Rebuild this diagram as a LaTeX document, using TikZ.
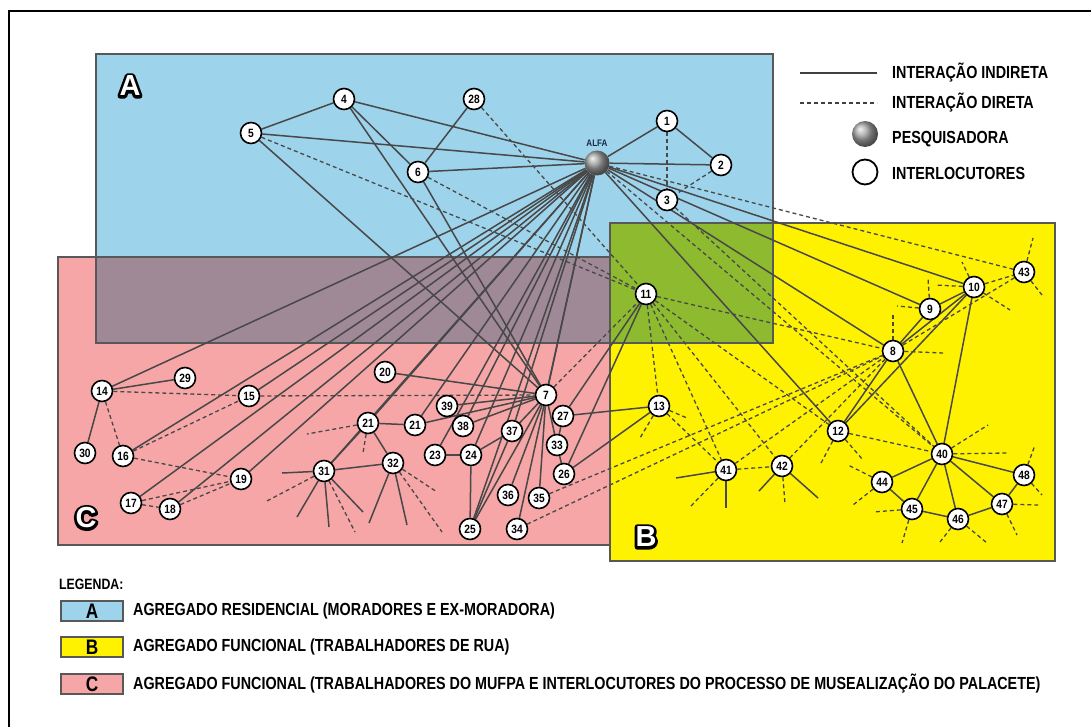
\documentclass[tikz,border=0pt]{standalone}
\usepackage{fontspec}
\setmainfont{Liberation Sans}
\newfontfamily\lgfont{Liberation Sans}[FakeStretch=0.82]
\newfontfamily\nmfont{Liberation Sans}[FakeStretch=0.85]
\definecolor{cA}{RGB}{157,211,235}
\definecolor{cB}{RGB}{255,242,0}
\definecolor{cC}{RGB}{246,166,166}
\definecolor{cAC}{RGB}{160,137,151}
\definecolor{cAB}{RGB}{141,186,46}
\definecolor{bordc}{RGB}{88,88,88}
\definecolor{linc}{RGB}{72,72,72}
\definecolor{alfac}{RGB}{25,40,70}
\pgfdeclarelayer{bg}
\pgfdeclarelayer{edges}
\pgfsetlayers{bg,edges,main}
\tikzset{
  nd/.style={circle,draw=black,line width=1.6pt,fill=white,inner sep=0pt,minimum size=21pt,font=\nmfont\bfseries\fontsize{12}{12}\selectfont},
  ind/.style={draw=linc,line width=1.5pt},
  dir/.style={draw=linc,line width=1.3pt,dash pattern=on 4pt off 3pt},
  bord/.style={draw=bordc,line width=2pt},
  lgtext/.style={anchor=west,inner sep=0pt,font=\lgfont\bfseries\fontsize{17.5}{19}\selectfont},
  bigl/.style={inner sep=0pt,text=white,font=\bfseries\fontsize{29}{31}\selectfont},
  sph/.style={circle,inner sep=0pt,minimum size=25pt,shading=ball,ball color=gray!75},
  legbox/.style={draw=bordc,line width=2.5pt,minimum width=62pt,minimum height=20pt,inner sep=0pt,font=\lgfont\bfseries\fontsize{21}{21}\selectfont}
}
\newcommand{\outltxt}[1]{\rlap{\special{pdf:literal direct 1 Tr 5.5 w 1 j 0 0 0 RG}#1\special{pdf:literal direct 0 Tr}}#1}
\begin{document}
\begin{tikzpicture}[x=1pt,y=-1pt]
\useasboundingbox (0,0) rectangle (1091,727);
% background regions
\begin{pgfonlayer}{bg}
\fill[white] (0,0) rectangle (1091,727);
\draw[black,line width=2pt] (9,740) -- (9,11) -- (1100,11);
\fill[cA] (96,54) rectangle (773,343);
\fill[cC] (58,257) rectangle (610,545);
\fill[cAC] (96,257) rectangle (610,343);
\fill[cB] (610,223) rectangle (1055,561);
\fill[cAB] (610,223) rectangle (773,343);
\draw[bord] (96,54) rectangle (773,343);
\draw[bord] (58,257) rectangle (610,545);
\draw[bord] (610,223) rectangle (1055,561);
\end{pgfonlayer}

% big letters
\node[bigl] (LA) at (130,86) {\outltxt{A}};
\node[bigl] (LB) at (646,537) {\outltxt{B}};
\node[bigl] (LC) at (86,518) {\outltxt{C}};

% nodes
\node[sph] (ALFA) at (597,163) {};
\node[inner sep=0pt,text=alfac,font=\nmfont\bfseries\fontsize{9.5}{10}\selectfont] (alfalab) at (597,143) {ALFA};
\foreach \n/\t/\x/\y in {
 n1/1/667/121, n2/2/721/165, n3/3/667/200, n4/4/344/99, n5/5/251/133, n6/6/418/172, n28/28/474/99,
 n11/11/646/294, n10/10/974/287, n43/43/1024/272, n9/9/930/309, n8/8/893/351, n12/12/838/431,
 n13/13/659/406, n41/41/726/470, n42/42/782/466, n40/40/942/454, n44/44/882/482, n45/45/912/509,
 n46/46/958/519, n47/47/1002/504, n48/48/1024/475,
 n7/7/546/395, n14/14/102/391, n29/29/185/378, n15/15/249/396, n30/30/85/453, n16/16/123/456,
 n19/19/241/479, n17/17/131/503, n18/18/170/509, n31/31/324/471, n20/20/385/372, n21a/21/368/423,
 n21b/21/415/425, n39/39/447/406, n38/38/463/426, n23/23/435/455, n24/24/471/455, n37/37/512/431,
 n32/32/393/463, n25/25/470/529, n36/36/508/495, n35/35/539/498, n34/34/517/529, n27/27/563/416,
 n33/33/557/445, n26/26/564/474}
 \node[nd] (\n) at (\x,\y) {\t};

% edges
\begin{pgfonlayer}{edges}
\foreach \a/\b in {ALFA/n1, ALFA/n2, n1/n2, ALFA/n4, ALFA/n5, ALFA/n6, n4/n5, n4/n6, n4/n7, n5/n7, n6/n7, n6/n28,
 ALFA/n10, ALFA/n9, ALFA/n8, ALFA/n12,
 ALFA/n14, ALFA/n15, ALFA/n16, ALFA/n17, ALFA/n18, ALFA/n19, ALFA/n31, ALFA/n21a, ALFA/n21b, ALFA/n23,
 ALFA/n38, ALFA/n24, ALFA/n37, ALFA/n25, ALFA/n34, ALFA/n7,
 n14/n29, n14/n30, n31/n32, n31/n21a, n21a/n32, n21a/n21b,
 n20/n7, n39/n7, n21b/n7, n38/n7, n37/n7, n24/n37, n23/n24, n24/n25, n25/n37, n25/n7, n36/n7, n35/n7,
 n7/n33, n27/n33, n33/n26, n27/n13, n26/n13, n27/n11, n26/n11,
 n8/n9, n8/n10, n9/n10, n12/n8, n12/n10, n8/n40, n10/n40,
 n40/n44, n40/n45, n40/n46, n40/n47, n40/n48, n44/n45, n45/n46, n46/n47, n47/n48}
 \draw[ind] (\a) -- (\b);
\foreach \a/\b in {n1/n3, n2/n3, ALFA/n43, ALFA/n40, n3/n40, n5/n11, n6/n11, n28/n11, n7/n11,
 n11/n8, n11/n12, n11/n13, n11/n41, n11/n42, n13/n41, n41/n42, n12/n40, n10/n43, n43/n8,
 n35/n8, n34/n8, n41/n8, n42/n8,
 n14/n15, n15/n7, n14/n16, n16/n15, n16/n19, n17/n18, n17/n19, n18/n19}
 \draw[dir] (\a) -- (\b);
% short stubs
\foreach \n/\x/\y/\s [count=\k] in {
 n13/687/418/dir, n13/640/438/dir, n12/820/465/dir, n12/863/460/dir,
 n41/676/478/ind, n41/726/508/ind, n41/690/507/dir,
 n42/759/491/ind, n42/785/504/dir, n42/818/498/ind,
 n40/988/425/dir, n40/1007/453/dir, n44/848/465/dir, n44/853/505/dir,
 n45/873/512/dir, n45/902/543/dir, n46/940/542/dir, n46/987/543/dir,
 n47/1038/505/dir, n47/1017/535/dir, n48/1035/445/dir, n48/1042/495/dir,
 n10/962/262/dir, n10/935/285/dir, n10/1010/310/dir, n43/1033/238/dir, n43/1042/295/dir,
 n9/897/306/dir, n9/928/278/dir, n8/943/353/dir, n8/893/315/dir,
 n31/282/473/ind, n31/297/517/ind, n31/329/527/ind, n31/363/512/ind, n31/265/502/dir, n31/355/532/dir,
 n32/369/523/ind, n32/407/525/ind, n32/442/532/dir, n32/437/492/dir,
 n21a/307/434/dir, n21a/363/453/dir}
 {\coordinate (st\k) at (\x,\y); \draw[\s] (\n) -- (st\k);}
\end{pgfonlayer}

% top-right legend
\coordinate (lgA1) at (800,73); \coordinate (lgA2) at (877,73);
\coordinate (lgB1) at (800,103); \coordinate (lgB2) at (877,103);
\draw[ind,draw=black!75] (lgA1) -- (lgA2);
\draw[dir,draw=black!75] (lgB1) -- (lgB2);
\node[sph,minimum size=26pt,ball color=gray!70] (lgsph) at (865,134) {};
\node[circle,draw=black,line width=1.8pt,minimum size=25pt,inner sep=0pt] (lgcirc) at (865,172) {};
\node[lgtext] (t1) at (892,73) {INTERAÇÃO INDIRETA};
\node[lgtext] (t2) at (892,103) {INTERAÇÃO DIRETA};
\node[lgtext] (t3) at (892,139) {PESQUISADORA};
\node[lgtext] (t4) at (892,173) {INTERLOCUTORES};

% bottom legend
\node[lgtext,font=\lgfont\bfseries\fontsize{15}{16}\selectfont] (legenda) at (59,584) {LEGENDA:};
\node[legbox,fill=cA] (bA) at (92,611) {A};
\node[legbox,fill=cB] (bB) at (92,647) {B};
\node[legbox,fill=cC] (bC) at (92,684) {C};
\node[lgtext] (tA) at (133,611) {AGREGADO RESIDENCIAL (MORADORES E EX-MORADORA)};
\node[lgtext] (tB) at (133,647) {AGREGADO FUNCIONAL (TRABALHADORES DE RUA)};
\node[lgtext] (tC) at (133,684) {AGREGADO FUNCIONAL (TRABALHADORES DO MUFPA E INTERLOCUTORES DO PROCESSO DE MUSEALIZAÇÃO DO PALACETE)};
\end{tikzpicture}
\end{document}
